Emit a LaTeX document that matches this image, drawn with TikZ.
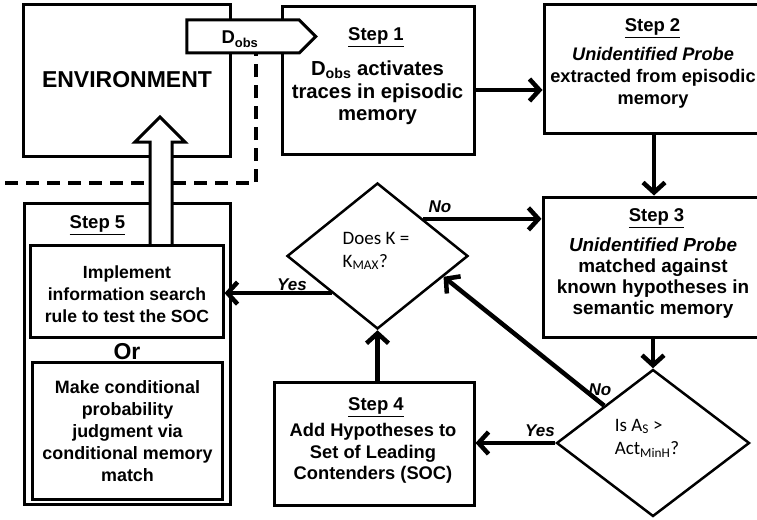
\documentclass[tikz,border=0pt]{standalone}
\usepackage{fontspec}
\setmainfont{Liberation Sans}
\newfontfamily\calib{Carlito}
\usetikzlibrary{arrows.meta,shapes.geometric,shapes.symbols,calc}
\newcommand\fs[2]{\fontsize{#1}{#2}\selectfont}
\begin{document}
\begin{tikzpicture}[x=1pt,y=-1pt,
  box/.style={draw,line width=3pt,inner sep=0pt,fill=white},
  txt/.style={align=center,inner sep=0pt},
  dia/.style={draw,diamond,line width=2.5pt,inner sep=0pt},
  arr/.style={line width=4.5pt,-{Straight Barb[length=10pt,width=22pt]}},
  lab/.style={font=\bfseries\itshape\fs{17}{19},inner sep=0pt},
  dtxt/.style={font=\calib\fs{19}{23},align=left,inner sep=0pt}
]
\useasboundingbox (0,0) rectangle (757,519);
\begin{scope}
\clip (0,0) rectangle (757,519);
% environment
\node[box,minimum width=207pt,minimum height=151pt] (env) at (126.5,80.5) {};
\node[txt,font=\bfseries\fs{23}{26}] (envt) at (127,80) {ENVIRONMENT};
% step 1
\node[box,minimum width=192pt,minimum height=147pt] (s1) at (378,80.5) {};
\node[txt,font=\bfseries\fs{18.5}{20}] (s1h) at (376,37) {\underline{Step 1}};
\node[txt,font=\bfseries\fs{20.3}{22.5}] (s1t) at (377.5,93) {D\textsubscript{obs} activates\\traces in episodic\\memory};
% step 5 outer
\node[box,minimum width=206pt,minimum height=301pt] (s5) at (127,353.5) {};
\node[txt,font=\bfseries\fs{18.5}{20}] (s5h) at (97.5,225) {\underline{Step 5}};
% dashed boundary
\coordinate (dl) at (5,183);
\coordinate (dc) at (256,183);
\coordinate (dt) at (256,53);
\draw[line width=3.5pt,dash pattern=on 13pt off 8pt] (dl) -- (dc) -- (dt);
% big hollow arrow
\draw[line width=3pt,fill=white] (150,245) -- (150,142) -- (135,142) -- (160,117) -- (185,142) -- (172,142) -- (172,245);
% dobs signal
\node[draw,fill=white,line width=3pt,signal,signal to=east,signal pointer angle=90,minimum width=129pt,minimum height=33pt,inner sep=0pt] (dobs) at (243,36.5) {};
\node[txt,font=\bfseries\fs{18.5}{20}] (dobst) at (240,39) {D\textsubscript{obs}};
% step 5 inner
\node[box,minimum width=193pt,minimum height=92pt] (in1) at (126.5,291) {};
\node[txt,font=\bfseries\fs{17.6}{22}] (in1t) at (127,294) {Implement\\information search\\rule to test the SOC};
\node[txt,font=\bfseries\fs{23}{26}] (or) at (127,352) {Or};
\node[box,minimum width=190pt,minimum height=137pt] (in2) at (127,430.5) {};
\node[txt,font=\bfseries\fs{17.9}{22}] (in2t) at (127.5,431.5) {Make conditional\\probability\\judgment via\\conditional memory\\match};
% step 2 (runs off the right edge)
\node[box,minimum width=220pt,minimum height=128pt] (s2) at (654,69) {};
\node[txt,font=\bfseries\fs{18.5}{20}] (s2h) at (652.5,28) {\underline{Step 2}};
\node[txt,font=\bfseries\fs{18.2}{22}] (s2t) at (653,78) {\textit{Unidentified Probe}\\extracted from episodic\\memory};
% step 3 (runs off the right edge)
\node[box,minimum width=220pt,minimum height=140pt] (s3) at (653,267) {};
\node[txt,font=\bfseries\fs{18.5}{20}] (s3h) at (656.5,218) {\underline{Step 3}};
\node[txt,font=\bfseries\fs{18.9}{21}] (s3t) at (653,278.5) {\textit{Unidentified Probe}\\matched against\\known hypotheses in\\semantic memory};
% step 4
\node[box,minimum width=200pt,minimum height=123pt] (s4) at (374,443.5) {};
\node[txt,font=\bfseries\fs{18.5}{20}] (s4h) at (376,407) {\underline{Step 4}};
\node[txt,font=\bfseries\fs{18.3}{21.5}] (s4t) at (373,453.5) {Add Hypotheses to\\Set of Leading\\Contenders (SOC)};
% diamonds
\node[dia,minimum width=181pt,minimum height=146pt] (d1) at (377.5,256) {};
\node[dtxt] (d1t) at (376,251) {Does K =\\K\textsubscript{MAX}?};
\node[dia,minimum width=193pt,minimum height=147pt] (d2) at (653,443) {};
\node[dtxt] (d2t) at (647,438) {Is A\textsubscript{S} >\\Act\textsubscript{MinH}?};
% connectors
\draw[arr] ([yshift=-9.5pt]s1.east) -- ([yshift=-9.5pt]s1.east -| s2.west);
\draw[arr] (s2.south) -- (s2.south |- s3.north);
\draw[arr] (s3.south -| d2.north) -- (d2.north);
\draw[arr] (d1.north east) -- (d1.north east -| s3.west);
\draw[arr] (d1.south west) -- (d1.south west -| in1.east);
\draw[arr] (d1.south |- s4.north) -- (d1.south);
\draw[arr] (d2.west) -- (d2.west -| s4.east);
\draw[arr] (d2.north west) -- ($(d1.east)!0.28!(d1.south)$);
% labels
\node[lab] (no1) at (440,207) {No};
\node[lab] (yes1) at (292,285) {Yes};
\node[lab] (yes2) at (540,431) {Yes};
\node[lab] (no2) at (600,390) {No};
\end{scope}
\end{tikzpicture}
\end{document}
